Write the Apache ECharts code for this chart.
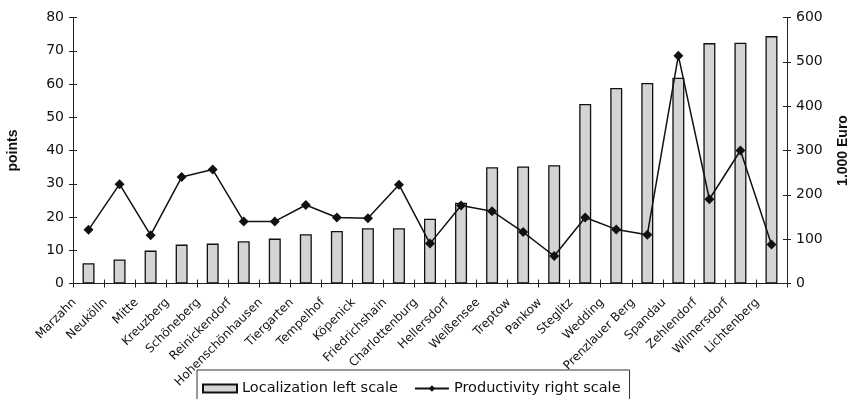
<!DOCTYPE html>
<html>
<head>
<meta charset="utf-8">
<title>Localization and productivity by Berlin district</title>
<script src="https://cdn.jsdelivr.net/npm/echarts@6/dist/echarts.min.js"></script>
<style>
  html, body { margin: 0; padding: 0; background: #fff; }
  #chart { width: 850px; height: 399px; }
</style>
</head>
<body>
<div id="chart"></div>
<script>
// Berlin districts, sorted by localization points
const districts = [
  'Marzahn', 'Neukölln', 'Mitte', 'Kreuzberg', 'Schöneberg', 'Reinickendorf',
  'Hohenschönhausen', 'Tiergarten', 'Tempelhof', 'Köpenick', 'Friedrichshain',
  'Charlottenburg', 'Hellersdorf', 'Weißensee', 'Treptow', 'Pankow', 'Steglitz',
  'Wedding', 'Prenzlauer Berg', 'Spandau', 'Zehlendorf', 'Wilmersdorf', 'Lichtenberg'
];

// Localization (points, left scale)
const localization = [
  6.1, 7.2, 9.9, 11.7, 12.0, 12.7, 13.5, 14.8, 15.8, 16.6, 16.6, 19.5,
  24.3, 35.0, 35.2, 35.6, 54.0, 58.8, 60.3, 61.9, 72.3, 72.4, 74.4
];

// Productivity (1.000 Euro, right scale)
const productivity = [
  121, 224, 109, 240, 257, 140, 140, 177, 149, 147, 223, 90,
  176, 163, 116, 62, 149, 122, 110, 514, 190, 300, 88
];

const leftTicks = { min: 0, max: 80, interval: 10 };
const rightTicks = { min: 0, max: 600, interval: 100 };

const chart = echarts.init(document.getElementById('chart'), null, { renderer: 'canvas' });

const tickFont = { fontFamily: 'DejaVu Sans', fontSize: 14, color: '#111' };
const titleFont = { fontFamily: 'Liberation Sans', fontSize: 14, fontWeight: 'bold', color: '#111' };

// Each value axis is drawn twice: once with outward ticks and labels,
// once with inward ticks only, so the ticks cross the axis line.
function valueAxis(side, range, withLabels, inside, name) {
  return {
    type: 'value',
    position: side,
    min: range.min,
    max: range.max,
    interval: range.interval,
    name: withLabels ? name : '',
    nameLocation: 'middle',
    nameRotate: 90,
    nameGap: side === 'left' ? 53 : 49,
    nameTextStyle: titleFont,
    splitLine: { show: false },
    axisLine: { show: withLabels, lineStyle: { color: '#222', width: 1 } },
    axisTick: { show: true, inside: inside, length: 4, lineStyle: { color: '#222', width: 1 } },
    axisLabel: Object.assign({ show: withLabels, margin: 9 }, tickFont)
  };
}

function categoryAxis(withLabels, inside) {
  return {
    type: 'category',
    position: 'bottom',
    data: districts,
    boundaryGap: true,
    axisLine: { show: withLabels, lineStyle: { color: '#222', width: 1 } },
    axisTick: { show: true, inside: inside, length: 4, alignWithLabel: false, lineStyle: { color: '#222', width: 1 } },
    axisLabel: {
      show: withLabels,
      interval: 0,
      rotate: 45,
      margin: 3,
      padding: [0, 20, 0, 0],
      fontFamily: 'DejaVu Sans',
      fontSize: 12,
      color: '#111'
    }
  };
}

chart.setOption({
  animation: false,
  backgroundColor: '#fff',
  grid: {
    left: 73, right: 63, top: 17.5, bottom: 115.5,
    containLabel: false,
    outerBoundsMode: 'none'
  },
  legend: {
    left: 197,
    top: 370,
    orient: 'horizontal',
    itemWidth: 34,
    itemHeight: 8,
    itemGap: 16,
    padding: [11, 9, 12, 5],
    borderColor: '#333',
    borderWidth: 1,
    textStyle: { fontFamily: 'DejaVu Sans', fontSize: 14.5, color: '#111' },
    data: [
      { name: 'Localization left scale', icon: 'rect' },
      { name: 'Productivity right scale' }
    ]
  },
  xAxis: [categoryAxis(true, false), categoryAxis(false, true)],
  yAxis: [
    valueAxis('left', leftTicks, true, false, 'points'),
    valueAxis('right', rightTicks, true, false, '1.000 Euro'),
    valueAxis('left', leftTicks, false, true, ''),
    valueAxis('right', rightTicks, false, true, '')
  ],
  series: [
    {
      name: 'Localization left scale',
      type: 'bar',
      xAxisIndex: 0,
      yAxisIndex: 0,
      barWidth: 12,
      data: localization,
      itemStyle: { color: '#d4d4d4', borderColor: '#111', borderWidth: 1.3 }
    },
    {
      name: 'Productivity right scale',
      type: 'line',
      xAxisIndex: 0,
      yAxisIndex: 1,
      data: productivity,
      symbol: 'diamond',
      symbolSize: 10,
      lineStyle: { color: '#111', width: 1.5 },
      itemStyle: { color: '#111' }
    }
  ]
});
</script>
</body>
</html>
